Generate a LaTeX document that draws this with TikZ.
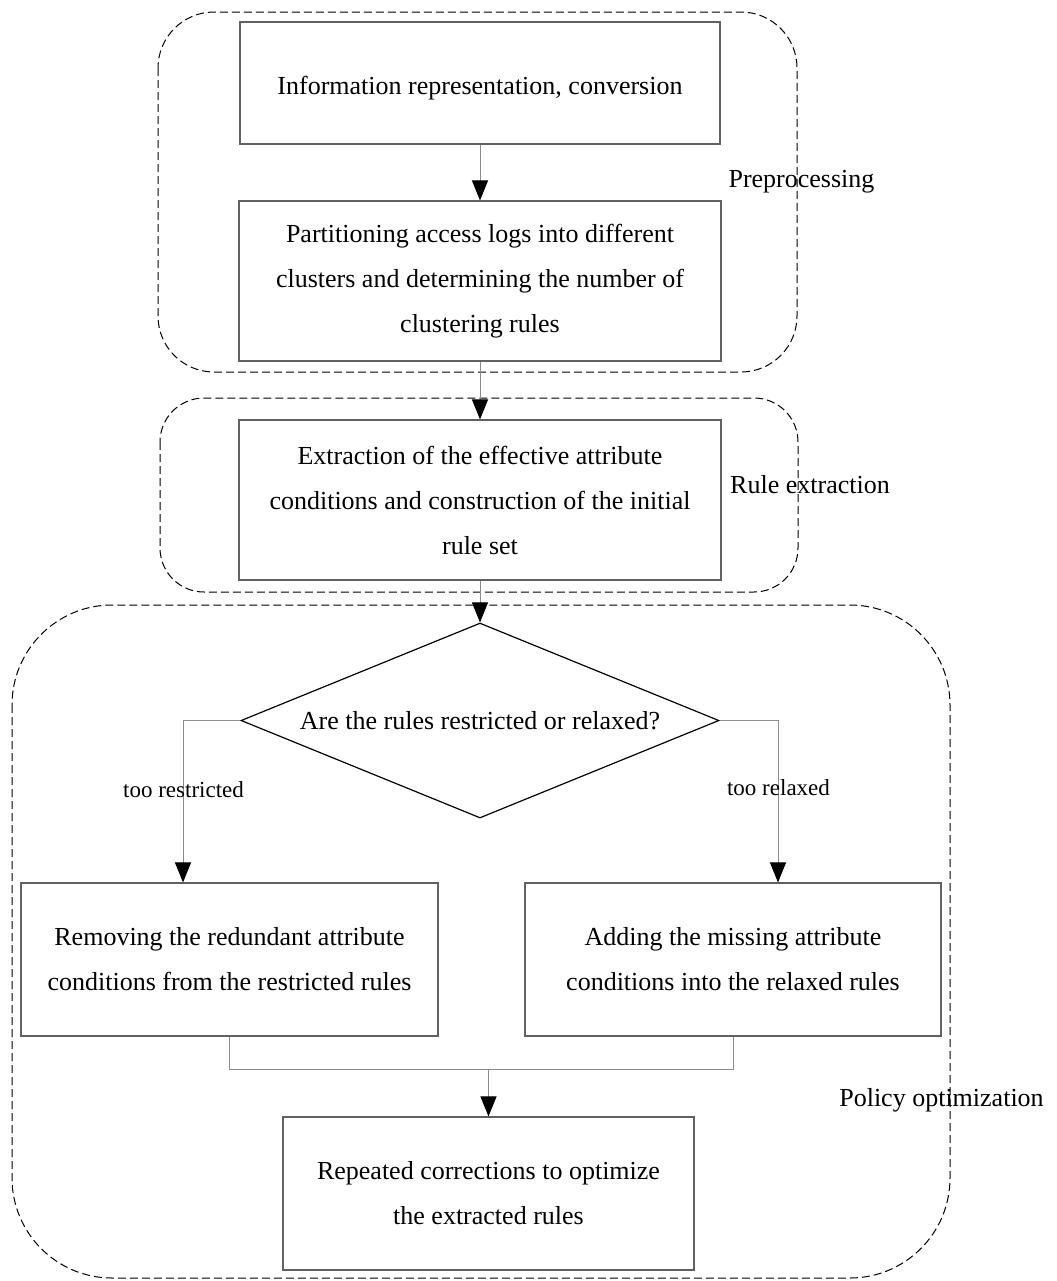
\documentclass[tikz,border=0pt]{standalone}
\usepackage{fontspec}
\setmainfont{Liberation Serif}
\usetikzlibrary{shapes.geometric,arrows.meta}

\begin{document}
\begin{tikzpicture}[x=5pt,y=-5pt,
        stage/.style={draw=black!62,line width=0.55pt,align=center,inner sep=0pt,font=\fontsize{13}{22.5}\selectfont,
                execute at begin node={\rule{0pt}{14pt}}},
        group/.style={draw=black,line width=0.5pt,dash pattern=on 4pt off 2pt},
        flow/.style={draw=black!45,line width=0.5pt,-{Triangle[length=10pt,width=8pt,color=black,fill=black]}},
        wire/.style={draw=black!45,line width=0.5pt},
        tag/.style={font=\fontsize{13}{16}\selectfont},
        branch/.style={font=\fontsize{11.5}{14}\selectfont}]
                \useasboundingbox (0,0) rectangle (105.6,128.1);
                % dashed groups
                \draw[group,rounded corners=28pt] (15.8,1.2) rectangle (79.7,37.2);
                \draw[group,rounded corners=22pt] (16.0,39.8) rectangle (79.8,59.2);
                \draw[group,rounded corners=50pt] (1.2,60.5) rectangle (95.0,127.8);
                \node[tag] (pre) at (80.15,18.2) {Preprocessing};
                \node[tag] (ext) at (81.0,48.5) {Rule extraction};
                \node[tag] (opt) at (94.15,110.0) {Policy optimization};
                % steps
                \node[stage,minimum width=240pt,minimum height=61pt] (info) at (48.0,8.3) {Information representation, conversion};
                \node[stage,minimum width=241pt,minimum height=80pt] (part) at (48.0,28.1) {Partitioning access logs into different\\clusters and determining the number of\\clustering rules};
                \node[stage,minimum width=241pt,minimum height=80pt] (extract) at (48.0,50.0) {Extraction of the effective attribute\\conditions and construction of the initial\\rule set};
                \node[diamond,draw,line width=0.6pt,aspect=2.45,minimum width=239pt,minimum height=97.5pt,inner sep=0pt,font=\fontsize{13}{16}\selectfont] (decide) at (48.0,72.05) {Are the rules restricted or relaxed?};
                \node[stage,minimum width=208.5pt,minimum height=76.5pt] (remove) at (22.95,95.95) {Removing the redundant attribute\\conditions from the restricted rules};
                \node[stage,minimum width=208pt,minimum height=76.5pt] (add) at (73.3,95.95) {Adding the missing attribute\\conditions into the relaxed rules};
                \node[stage,minimum width=205.5pt,minimum height=76.5pt] (repeat) at (48.85,119.35) {Repeated corrections to optimize\\the extracted rules};
                % arrows
                \draw[flow] (info) -- (part);
                \draw[flow] (part) -- (extract);
                \draw[flow] (extract) -- (decide);
                \coordinate (lbend) at (18.3,72.05);
                \coordinate (rbend) at (77.8,72.05);
                \draw[flow] (decide.west) -- (lbend) -- (lbend |- remove.north);
                \draw[flow] (decide.east) -- (rbend) -- (rbend |- add.north);
                \node[branch] (tight) at (18.35,79.0) {too restricted};
                \node[branch] (loose) at (77.85,78.8) {too relaxed};
                \coordinate (merge) at (48.85,106.9);
                \draw[wire] (remove.south) |- (merge) -| (add.south);
                \draw[flow] (merge) -- (repeat);
\end{tikzpicture}
\end{document}
